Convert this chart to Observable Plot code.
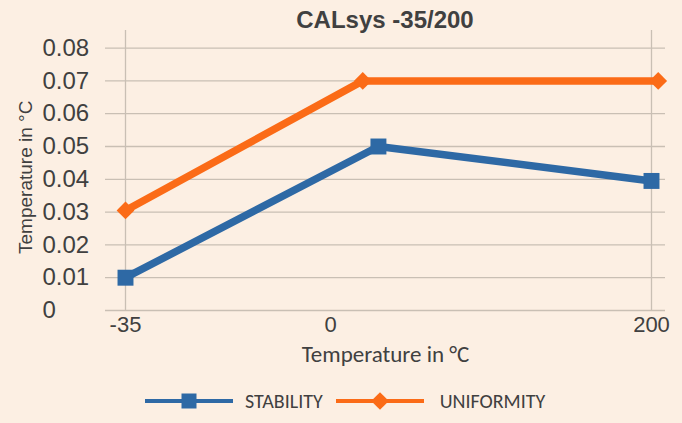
<!DOCTYPE html>
<html><head><meta charset="utf-8">
<script src="https://cdn.jsdelivr.net/npm/d3@7"></script>
<script src="https://cdn.jsdelivr.net/npm/@observablehq/plot@0.6"></script>
<style>
body{margin:0;background:#fcefe3;width:682px;height:423px;overflow:hidden;font-family:"Liberation Sans",Arial,sans-serif;color:#404040}
#title{height:30px;padding-left:88px;text-align:center;font-weight:bold;font-size:24px;line-height:40px;white-space:nowrap}
#chart svg{display:block}
#legend{display:flex;align-items:center;height:62px;padding-left:145px;font-family:Carlito,Lato,sans-serif;font-size:20px;color:#404040}
</style></head><body>
<div id="title"></div><div id="chart"></div><div id="legend"></div>
<script>
const title = "CALsys -35/200";
const xLabel = "Temperature in °C";
const yLabel = "Temperature in °C";
const seriesNames = ["STABILITY", "UNIFORMITY"];
const seriesColors = ["#2e69a5", "#fb6b17"];
const seriesSymbols = ["square", "diamond2"];
const stabilityX = [-35, 78, 200];
const stabilityY = [0.01, 0.05, 0.0395];
const uniformityX = [-35, 71, 203];
const uniformityY = [0.0305, 0.07, 0.07];
const xTicks = [-35, 56.6, 200];
const xTickLabels = ["-35", "0", "200"];
const xGrid = [-35, 200];
const yTicks = [0, 0.01, 0.02, 0.03, 0.04, 0.05, 0.06, 0.07, 0.08];
const yTickLabels = ["0", "0.01", "0.02", "0.03", "0.04", "0.05", "0.06", "0.07", "0.08"];

document.getElementById("title").textContent = title;

const stability = stabilityX.map((x, i) => ({series: seriesNames[0], x, y: stabilityY[i]}));
const uniformity = uniformityX.map((x, i) => ({series: seriesNames[1], x, y: uniformityY[i]}));
const gridColor = "#c9bfb4";
const textColor = "#404040";

const chart = Plot.plot({
  width: 682, height: 340,
  marginTop: 17.6, marginBottom: 60, marginLeft: 105, marginRight: 17,
  style: {background: "transparent", fontFamily: "'Liberation Sans', Arial, sans-serif", color: textColor},
  x: {domain: [-35, 200], range: [125, 651]},
  y: {domain: [0, 0.08]},
  color: {domain: seriesNames, range: seriesColors},
  symbol: {domain: seriesNames, range: seriesSymbols},
  marks: [
    Plot.ruleY(yTicks, {stroke: gridColor, strokeWidth: 1.3}),
    Plot.ruleX(xGrid, {stroke: gridColor, strokeWidth: 1.3, insetTop: -17.6}),
    Plot.axisY(yTicks, {tickSize: 0, tickPadding: 63, textAnchor: "start", fontSize: 24, fill: textColor,
      tickFormat: d => yTickLabels[yTicks.indexOf(d)], label: null}),
    Plot.axisX(xTicks, {tickSize: 0, tickPadding: 6, fontSize: 22, fill: textColor,
      tickFormat: d => xTickLabels[xTicks.indexOf(d)], label: null}),
    Plot.text([xLabel], {text: d => d, frameAnchor: "bottom", lineAnchor: "middle", textAnchor: "middle", dy: 44, fontSize: 23, fontFamily: "Carlito, Lato, sans-serif", fill: textColor}),
    Plot.text([yLabel], {text: d => d, frameAnchor: "left", textAnchor: "middle", lineAnchor: "middle", rotate: -90, dx: -80, dy: -2, fontSize: 19, fill: textColor}),
    Plot.line(stability, {x: "x", y: "y", stroke: "series", strokeWidth: 7.5}),
    Plot.line(uniformity, {x: "x", y: "y", stroke: "series", strokeWidth: 7.5}),
    Plot.dot(stability, {x: "x", y: "y", fill: "series", symbol: "series", r: 9}),
    Plot.dot(uniformity, {x: "x", y: "y", fill: "series", symbol: "series", r: 8})
  ]
});
document.getElementById("chart").appendChild(chart);

const legend = d3.select("#legend");
const symbolTypes = {square: d3.symbolSquare, diamond2: d3.symbolDiamond2};
const symbolSizes = [225, 200];
const gapsBefore = [0, 13];
const textGaps = [12, 16];
seriesNames.forEach((name, i) => {
  const item = legend.append("div").style("display", "flex").style("align-items", "center").style("margin-left", gapsBefore[i] + "px");
  const svg = item.append("svg").attr("width", 88).attr("height", 24);
  svg.append("line").attr("x1", 0).attr("x2", 88).attr("y1", 12).attr("y2", 12)
    .attr("stroke", seriesColors[i]).attr("stroke-width", 4);
  svg.append("path").attr("d", d3.symbol(symbolTypes[seriesSymbols[i]], symbolSizes[i])())
    .attr("transform", "translate(44,12)").attr("fill", seriesColors[i]);
  item.append("span").text(name).style("margin-left", textGaps[i] + "px");
});
</script>
</body></html>
